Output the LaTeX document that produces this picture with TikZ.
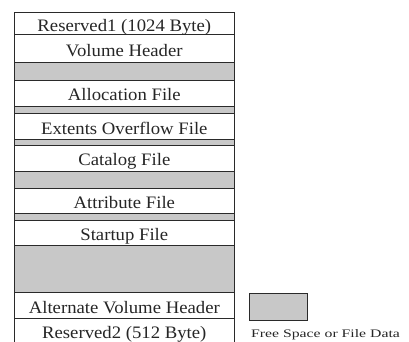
\documentclass[tikz,border=0pt]{standalone}
\usepackage{fontspec}
\setmainfont{Liberation Serif}
\definecolor{freegray}{HTML}{C8C8C8}
\definecolor{edge}{HTML}{2A2A2A}
\tikzset{
  row/.style={draw=edge, line width=0.9pt, fill=white},
  freerow/.style={draw=edge, line width=0.9pt, fill=freegray},
  lbl/.style={anchor=base, inner sep=0pt, font=\fontsize{17.5}{20}\selectfont, xscale=1.07, text=black!85},
  leglbl/.style={anchor=base, inner sep=0pt, font=\fontsize{11.5}{13}\selectfont, xscale=1.37, text=black!85}
}
\begin{document}
\begin{tikzpicture}[x=1pt,y=-1pt]
\useasboundingbox (0,0) rectangle (409,342);
% rows
\draw[row]     (14.7,12.7)  rectangle (234,34.7);
\draw[row]     (14.7,34.7)  rectangle (234,62);
\draw[freerow] (14.7,62)    rectangle (234,80);
\draw[row]     (14.7,80)    rectangle (234,106);
\draw[freerow] (14.7,106)   rectangle (234,113.5);
\draw[row]     (14.7,113.5) rectangle (234,139.3);
\draw[freerow] (14.7,139.3) rectangle (234,145.3);
\draw[row]     (14.7,145.3) rectangle (234,171.3);
\draw[freerow] (14.7,171.3) rectangle (234,188);
\draw[row]     (14.7,188)   rectangle (234,213);
\draw[freerow] (14.7,213)   rectangle (234,220.7);
\draw[row]     (14.7,220.7) rectangle (234,245.3);
\draw[freerow] (14.7,245.3) rectangle (234,292.7);
\draw[row]     (14.7,292.7) rectangle (234,318.3);
\draw[row]     (14.7,318.3) rectangle (234,346);
% labels
\node[lbl] (res1) at (124.3,31.5)  {Reserved1 (1024 Byte)};
\node[lbl] (vh)   at (124.3,56.5)  {Volume Header};
\node[lbl] (alloc) at (124.3,100.3) {Allocation File};
\node[lbl] (ext)  at (124.3,134.6) {Extents Overflow File};
\node[lbl] (cat)  at (124.3,165.2) {Catalog File};
\node[lbl] (attr) at (124.3,208.2) {Attribute File};
\node[lbl] (start) at (124.3,240.2) {Startup File};
\node[lbl] (avh)  at (124.3,313.3) {Alternate Volume Header};
\node[lbl] (res2) at (124.3,338.3) {Reserved2 (512 Byte)};
% legend
\draw[freerow] (249,293) rectangle (307,320);
\node[leglbl] (leg) at (325.5,337.3) {Free Space or File Data};
\end{tikzpicture}
\end{document}
